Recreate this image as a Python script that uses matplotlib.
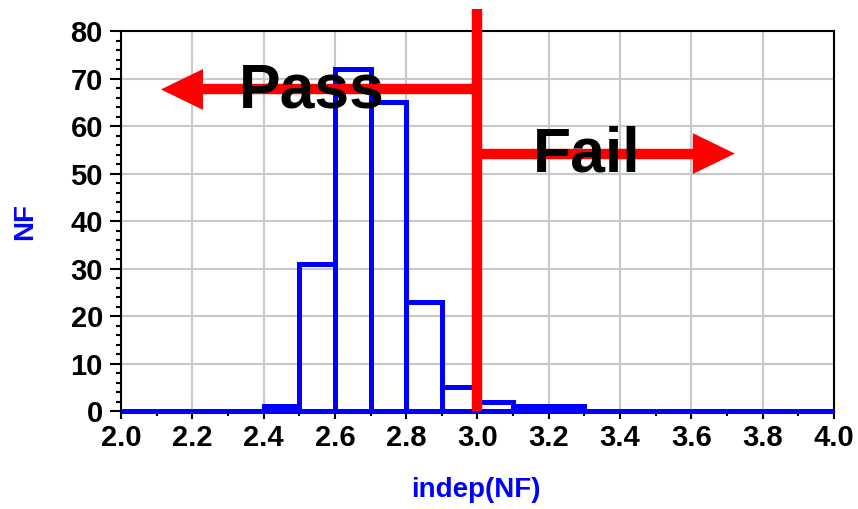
import matplotlib
matplotlib.use("Agg")
import matplotlib.pyplot as plt
from matplotlib.ticker import MultipleLocator

# Histogram of noise figure (NF) samples, bin width 0.1
bin_left = [2.0, 2.1, 2.2, 2.3, 2.4, 2.5, 2.6, 2.7, 2.8, 2.9,
            3.0, 3.1, 3.2, 3.3, 3.4, 3.5, 3.6, 3.7, 3.8, 3.9]
counts = [0, 0, 0, 0, 1, 31, 72, 65, 23, 5,
          2, 1, 1, 0, 0, 0, 0, 0, 0, 0]
bin_width = 0.1

x_ticks = [2.0, 2.2, 2.4, 2.6, 2.8, 3.0, 3.2, 3.4, 3.6, 3.8, 4.0]
y_ticks = [0, 10, 20, 30, 40, 50, 60, 70, 80]

# Spec limit and pass/fail annotations
limit = 3.0
pass_arrow_y = 67.7
pass_arrow_tip = 2.112
fail_arrow_y = 54.2
fail_arrow_tip = 3.722
head_len = 0.118
head_half = 4.3

plt.rcParams["font.family"] = ["Liberation Sans", "DejaVu Sans"]

fig = plt.figure(figsize=(8.58, 5.09), dpi=100)
ax = fig.add_axes([0.141, 0.1925, 0.831, 0.7465])

ax.set_xlim(2.0, 4.0)
ax.set_ylim(0, 80)

ax.grid(True, which="major", color="#c8c8c8", linewidth=1.5, zorder=0)
ax.set_axisbelow(True)

ax.bar(bin_left, counts, width=bin_width, align="edge", fill=False,
       edgecolor="#0000ff", linewidth=3.6, zorder=3, clip_on=False)

red = "#ff0000"
lw_red = 7.5
# vertical spec line, extending above the plot frame
ax.plot([limit, limit], [0, 84.6], color=red, linewidth=lw_red,
        solid_capstyle="butt", zorder=4, clip_on=False)

# "Pass" arrow pointing left
ax.plot([limit, pass_arrow_tip + head_len], [pass_arrow_y, pass_arrow_y],
        color=red, linewidth=lw_red, solid_capstyle="butt", zorder=4)
ax.fill([pass_arrow_tip, pass_arrow_tip + head_len, pass_arrow_tip + head_len],
        [pass_arrow_y, pass_arrow_y + head_half, pass_arrow_y - head_half],
        color=red, linewidth=0, zorder=4)

# "Fail" arrow pointing right
ax.plot([limit, fail_arrow_tip - head_len], [fail_arrow_y, fail_arrow_y],
        color=red, linewidth=lw_red, solid_capstyle="butt", zorder=4)
ax.fill([fail_arrow_tip, fail_arrow_tip - head_len, fail_arrow_tip - head_len],
        [fail_arrow_y, fail_arrow_y + head_half, fail_arrow_y - head_half],
        color=red, linewidth=0, zorder=4)

ax.text(2.535, 63.9, "Pass", fontsize=45, fontweight="bold", color="black",
        ha="center", va="baseline", zorder=5)
ax.text(3.307, 50.4, "Fail", fontsize=45, fontweight="bold", color="black",
        ha="center", va="baseline", zorder=5)

ax.set_xticks(x_ticks)
ax.set_xticklabels([f"{v:.1f}" for v in x_ticks])
ax.set_yticks(y_ticks)
ax.xaxis.set_minor_locator(MultipleLocator(0.1))
ax.yaxis.set_minor_locator(MultipleLocator(2))

ax.tick_params(axis="both", which="major", labelsize=21, width=1.5,
               color="black", direction="out")
ax.tick_params(axis="y", which="major", length=8, pad=5)
ax.tick_params(axis="x", which="major", length=6, pad=3)
ax.tick_params(axis="both", which="minor", length=3.5, width=1.5)
for lbl in ax.get_xticklabels() + ax.get_yticklabels():
    lbl.set_fontweight("bold")

for sp in ax.spines.values():
    sp.set_linewidth(1.5)
    sp.set_color("black")

ax.set_ylabel("NF", fontsize=20, fontweight="bold", color="#0000ff")
ax.yaxis.set_label_coords(-0.135, 0.5)
ax.set_xlabel("indep(NF)", fontsize=20, fontweight="bold", color="#0000ff")
ax.xaxis.set_label_coords(0.498, -0.208)
ax.xaxis.label.set_va("center")
ax.yaxis.label.set_va("center")

fig.savefig("out.png", dpi=100)
